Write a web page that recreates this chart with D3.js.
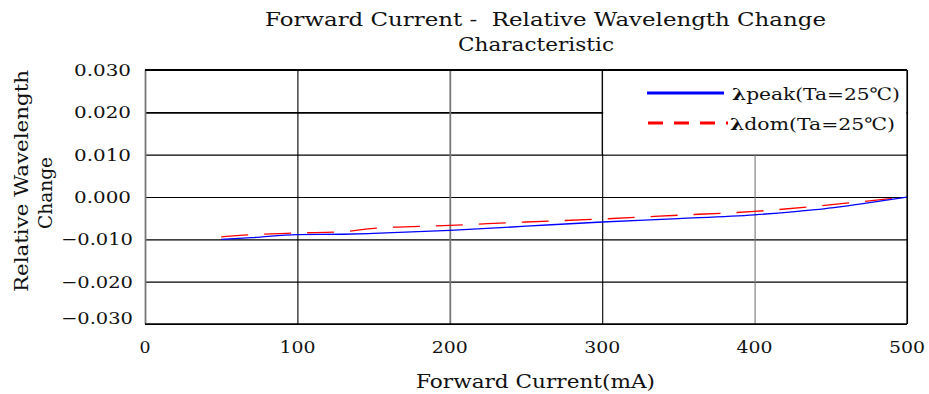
<!DOCTYPE html>
<html>
<head>
<meta charset="utf-8">
<script src="https://cdn.jsdelivr.net/npm/d3@7"></script>
<style>
  body { margin: 0; background: #fff; }
  svg text { font-family: "DejaVu Serif", "Liberation Serif", serif; fill: #111; white-space: pre; }
</style>
</head>
<body>
<div id="canvas"></div>
<script>
// DATA ========================================================================

var CURRENT = [50, 70, 100, 130, 150, 200, 250, 300, 350, 400, 440, 470, 500]

var PEAK = [-0.0100, -0.0096, -0.0089, -0.0088, -0.0086, -0.0079, -0.0069, -0.0059, -0.0051, -0.0042, -0.0030, -0.0016, 0.0]

var DOM = [-0.0094, -0.0089, -0.0085, -0.0082, -0.0074, -0.0067, -0.0059, -0.0052, -0.0043, -0.0034, -0.0022, -0.0011, 0.0]

var X_TICKS = [0, 100, 200, 300, 400, 500]

var Y_TICKS = [0.030, 0.020, 0.010, 0.000, -0.010, -0.020, -0.030]

var LEGEND = ["peak(Ta=25\u2103)", "dom(Ta=25\u2103)"]

// LAYOUT ======================================================================

var WIDTH = 929
var HEIGHT = 394

var MARGIN = { "left": 145, "right": 22, "top": 70, "bottom": 70 }

var W = WIDTH - MARGIN.left - MARGIN.right
var H = HEIGHT - MARGIN.top - MARGIN.bottom

function translate(x, y) {
    return "translate(" + x + "," + y + ")"
}

function fmt(v) {
    let s = Math.abs(v).toFixed(3)
    return (v < 0 ? "\u2212" : "") + s
}

// Text that is stretched to the width it has in the picture.
function label(parent, text, size, len) {
    return parent.append("text")
        .attr("font-size", size + "px")
        .attr("textLength", len)
        .attr("lengthAdjust", "spacingAndGlyphs")
        .text(text)
}

// SVG =========================================================================

var svg = d3.select("#canvas").append("svg")
    .attr("width", WIDTH)
    .attr("height", HEIGHT)

var x = d3.scaleLinear().domain([0, 500]).range([0, W])
var y = d3.scaleLinear().domain([-0.030, 0.030]).range([H, 0])

var G = svg.append("g").attr("transform", translate(MARGIN.left, MARGIN.top))

// Horizontal grid lines.
G.append("g")
    .call(d3.axisLeft(y).tickValues(Y_TICKS).tickSize(-W).tickFormat(""))
    .call(g => g.select(".domain").remove())
    .call(g => g.selectAll(".tick line")
        .attr("stroke", "#000")
        .attr("stroke-width", d => d == 0.020 ? 1.6 : 1.1))

// Vertical grid lines.
G.append("g")
    .attr("transform", translate(0, H))
    .call(d3.axisBottom(x).tickValues(X_TICKS).tickSize(-H).tickFormat(""))
    .call(g => g.select(".domain").remove())
    .call(g => g.selectAll(".tick line")
        .attr("stroke", d => (d == 200 || d == 400 || d == 0) ? "#777" : "#000")
        .attr("stroke-width", d => (d == 200 || d == 0) ? 1.8 : 1.1))

// Legend box covers the grid in the top right corner.
var LX = x(300), LY = y(0.010)
G.append("rect")
    .attr("x", LX + 1)
    .attr("y", 0.5)
    .attr("width", W - LX - 1.5)
    .attr("height", LY - 1)
    .attr("fill", "#fff")

G.append("line")
    .attr("x1", LX).attr("x2", LX)
    .attr("y1", 0).attr("y2", LY)
    .attr("stroke", "#000").attr("stroke-width", 1.1)

// Frame.
G.append("line").attr("x1", 0).attr("x2", W).attr("y1", 0).attr("y2", 0)
    .attr("stroke", "#000").attr("stroke-width", 2)
G.append("line").attr("x1", W).attr("x2", W).attr("y1", 0).attr("y2", H)
    .attr("stroke", "#000").attr("stroke-width", 1.2)
G.append("line").attr("x1", 0).attr("x2", W).attr("y1", H).attr("y2", H)
    .attr("stroke", "#000").attr("stroke-width", 1.4)

// Curves.
var line = d3.line()
    .x((d, i) => x(CURRENT[i]))
    .y(d => y(d))
    .curve(d3.curveMonotoneX)

G.append("path")
    .datum(DOM)
    .attr("d", line)
    .attr("fill", "none")
    .attr("stroke", "#f00")
    .attr("stroke-width", 1.3)
    .attr("stroke-dasharray", "27,16")

G.append("path")
    .datum(PEAK)
    .attr("d", line)
    .attr("fill", "none")
    .attr("stroke", "#00f")
    .attr("stroke-width", 1.3)

// Axis tick labels.
G.append("g")
    .selectAll("text")
    .data(Y_TICKS).enter()
    .append("text")
        .attr("x", d => d < 0 ? -12 : -14)
        .attr("y", (d, i) => i == Y_TICKS.length - 1 ? y(d) : y(d) + 6)
        .attr("text-anchor", "end")
        .attr("font-size", "17px")
        .attr("textLength", d => d < 0 ? 72 : 57)
        .attr("lengthAdjust", "spacingAndGlyphs")
        .text(fmt)

G.append("g")
    .selectAll("text")
    .data(X_TICKS).enter()
    .append("text")
        .attr("x", d => x(d))
        .attr("y", H + 29)
        .attr("text-anchor", "middle")
        .attr("font-size", "17px")
        .attr("textLength", d => d == 0 ? 11 : 36)
        .attr("lengthAdjust", "spacingAndGlyphs")
        .text(d => d)

// Legend entries.
var legend = G.append("g")

legend.append("line")
    .attr("x1", 502).attr("x2", 579)
    .attr("y1", 23).attr("y2", 23)
    .attr("stroke", "#00f").attr("stroke-width", 3)

legend.append("line")
    .attr("x1", 503).attr("x2", 583)
    .attr("y1", 53).attr("y2", 53)
    .attr("stroke", "#f00").attr("stroke-width", 3)
    .attr("stroke-dasharray", "15,11")

legend.selectAll("text")
    .data(LEGEND).enter()
    .append("text")
        .attr("x", (d, i) => i == 0 ? 587 : 585)
        .attr("y", (d, i) => 30 + 30*i)
        .attr("font-size", "17px")
        .attr("textLength", (d, i) => i == 0 ? 168 : 165)
        .attr("lengthAdjust", "spacingAndGlyphs")
        .call(t => t.append("tspan").attr("font-weight", "bold").text("\u03BB"))
        .call(t => t.append("tspan").text(d => d))

// Titles.
label(svg, "Forward Current -  Relative Wavelength Change", 18, 561)
    .attr("x", 265).attr("y", 26)

label(svg, "Characteristic", 18, 156)
    .attr("x", 458).attr("y", 51)

label(svg, "Forward Current(mA)", 18, 239)
    .attr("x", 416).attr("y", 388)

label(svg, "Relative Wavelength", 18, 222)
    .attr("transform", translate(28, 292) + " rotate(-90)")

label(svg, "Change", 18, 72)
    .attr("transform", translate(52, 229) + " rotate(-90)")
</script>
</body>
</html>
